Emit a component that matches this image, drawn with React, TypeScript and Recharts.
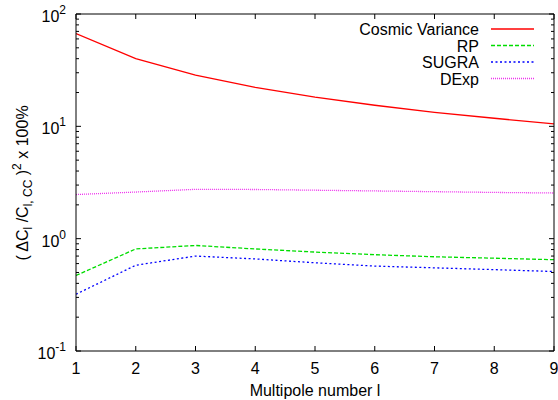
import React from 'react';
import { LineChart, Line, XAxis, YAxis, Legend } from 'recharts';

const multipoles = [1, 2, 3, 4, 5, 6, 7, 8, 9];
const cosmicVariance = [67, 40, 28.5, 22.2, 18.2, 15.4, 13.3, 11.8, 10.5];
const rp = [0.47, 0.81, 0.87, 0.81, 0.76, 0.72, 0.69, 0.67, 0.65];
const sugra = [0.32, 0.58, 0.7, 0.66, 0.61, 0.57, 0.55, 0.53, 0.51];
const dexp = [2.47, 2.6, 2.75, 2.74, 2.7, 2.66, 2.62, 2.58, 2.55];

const xTicks = [1, 2, 3, 4, 5, 6, 7, 8, 9];
const yTicks = [
  0.1, 0.2, 0.3, 0.4, 0.5, 0.6, 0.7, 0.8, 0.9,
  1, 2, 3, 4, 5, 6, 7, 8, 9,
  10, 20, 30, 40, 50, 60, 70, 80, 90, 100,
];

const series = [
  { key: 'cv', name: 'Cosmic Variance', color: '#ff0000', dash: undefined as string | undefined },
  { key: 'rp', name: 'RP', color: '#00dd00', dash: '4 2' },
  { key: 'sugra', name: 'SUGRA', color: '#0000ff', dash: '2 2.5' },
  { key: 'dexp', name: 'DExp', color: '#ee33ee', dash: '1 1' },
];

const data = multipoles.map((l, i) => ({
  l,
  cv: cosmicVariance[i],
  rp: rp[i],
  sugra: sugra[i],
  dexp: dexp[i],
}));

const FONT = '"Liberation Sans", Arial, Helvetica, sans-serif';
const MAJOR = 5;
const MINOR = 3;

const isMajor = (v: number) => {
  const lg = Math.log10(v);
  return Math.abs(lg - Math.round(lg)) < 1e-6;
};

const YTickLeft = (props: any) => {
  const { x, y, payload } = props;
  const v = payload.value;
  const major = isMajor(v);
  const exp = Math.round(Math.log10(v));
  return (
    <g>
      <line x1={x} x2={x + (major ? MAJOR : MINOR)} y1={y} y2={y} stroke="#000" strokeWidth={1} />
      {major && (
        <text x={x - 10} y={y + 8} textAnchor="end" fontFamily={FONT} fontSize={16} fill="#000">
          10<tspan dy={-8} fontSize={12}>{exp}</tspan>
        </text>
      )}
    </g>
  );
};

const YTickRight = (props: any) => {
  const { x, y, payload } = props;
  const major = isMajor(payload.value);
  return <line x1={x} x2={x - (major ? MAJOR : MINOR)} y1={y} y2={y} stroke="#000" strokeWidth={1} />;
};

const XTickBottom = (props: any) => {
  const { x, y, payload } = props;
  return (
    <g>
      <line x1={x} x2={x} y1={y} y2={y - MAJOR} stroke="#000" strokeWidth={1} />
      <text x={x} y={y + 23} textAnchor="middle" fontFamily={FONT} fontSize={16} fill="#000">
        {payload.value}
      </text>
    </g>
  );
};

const XTickTop = (props: any) => {
  const { x, y } = props;
  return <line x1={x} x2={x} y1={y} y2={y + MAJOR} stroke="#000" strokeWidth={1} />;
};

const YTitle = () => (
  <text
    x={28}
    y={183}
    transform="rotate(-90, 28, 183)"
    textAnchor="middle"
    fontFamily={FONT}
    fontSize={16}
    fill="#000"
  >
    ( ΔC<tspan dy={4} fontSize={12}>l</tspan>
    <tspan dy={-4}> /C</tspan>
    <tspan dy={4} fontSize={12}>l, CC</tspan>
    <tspan dy={-4}> )</tspan>
    <tspan dy={-7} fontSize={12}>2</tspan>
    <tspan dy={7}> x 100%</tspan>
  </text>
);

const XTitle = () => (
  <text x={315} y={396} textAnchor="middle" fontFamily={FONT} fontSize={16} fill="#000">
    Multipole number l
  </text>
);

const LegendContent = () => (
  <svg width={200} height={70} style={{ display: 'block', overflow: 'visible' }}>
    {series.map((s, i) => {
      const cy = 9 + i * 16.5;
      return (
        <g key={s.key}>
          <text x={139} y={cy + 6} textAnchor="end" fontFamily={FONT} fontSize={16} fill="#000">
            {s.name}
          </text>
          <line x1={151} x2={194} y1={cy} y2={cy} stroke={s.color} strokeWidth={1.5} strokeDasharray={s.dash} />
        </g>
      );
    })}
  </svg>
);

export default function App() {
  return (
    <div style={{ position: 'absolute', left: 0, top: 0, width: 558, height: 400, background: '#fff' }}>
      <LineChart width={558} height={400} data={data} margin={{ top: 0, right: 0, left: 0, bottom: 0 }}>
        <XAxis
          xAxisId="b"
          dataKey="l"
          type="number"
          domain={[1, 9]}
          allowDataOverflow
          ticks={xTicks}
          interval={0}
          orientation="bottom"
          height={49}
          tickSize={0}
          tickMargin={0}
          tickLine={false}
          tick={<XTickBottom />}
          axisLine={{ stroke: '#000', strokeWidth: 1 }}
          label={<XTitle />}
        />
        <XAxis
          xAxisId="t"
          dataKey="l"
          type="number"
          domain={[1, 9]}
          allowDataOverflow
          ticks={xTicks}
          interval={0}
          orientation="top"
          height={14}
          tickSize={0}
          tickMargin={0}
          tickLine={false}
          tick={<XTickTop />}
          axisLine={{ stroke: '#000', strokeWidth: 1 }}
        />
        <YAxis
          yAxisId="l"
          scale="log"
          domain={[0.1, 100]}
          allowDataOverflow
          ticks={yTicks}
          interval={0}
          width={76}
          tickSize={0}
          tickMargin={0}
          tickLine={false}
          tick={<YTickLeft />}
          axisLine={{ stroke: '#000', strokeWidth: 1 }}
          label={<YTitle />}
        />
        <YAxis
          yAxisId="r"
          orientation="right"
          scale="log"
          domain={[0.1, 100]}
          allowDataOverflow
          ticks={yTicks}
          interval={0}
          width={4}
          tickSize={0}
          tickMargin={0}
          tickLine={false}
          tick={<YTickRight />}
          axisLine={{ stroke: '#000', strokeWidth: 1 }}
        />
        <Legend
          content={<LegendContent />}
          wrapperStyle={{ position: 'absolute', left: 340, top: 20, width: 0, height: 0, overflow: 'visible' }}
        />
        {series.map((s) => (
          <Line
            key={s.key}
            xAxisId="b"
            yAxisId="l"
            dataKey={s.key}
            name={s.name}
            stroke={s.color}
            strokeWidth={1.3}
            strokeDasharray={s.dash}
            dot={false}
            activeDot={false}
            isAnimationActive={false}
          />
        ))}
      </LineChart>
    </div>
  );
}
